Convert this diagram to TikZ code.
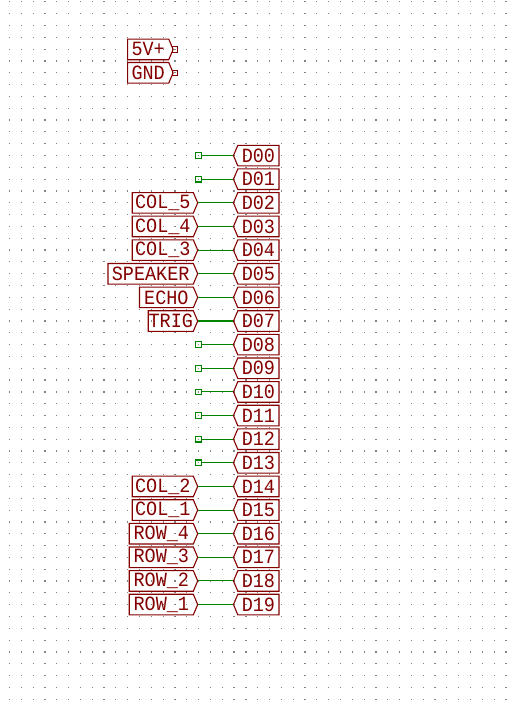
\documentclass[tikz,border=0pt]{standalone}
\usepackage{fontspec}
\setmainfont[FakeStretch=0.915]{Liberation Mono}
\usetikzlibrary{shapes.symbols}
\definecolor{lbl}{HTML}{840000}
\definecolor{wirec}{HTML}{008400}
\definecolor{griddot}{HTML}{848484}
\tikzset{
  x=1pt,y=-1pt,
  lblbase/.style={draw=lbl,line width=1.1pt,text=lbl,inner sep=0pt,font=\fontsize{20.2}{20.2}\selectfont,
    shape=signal,signal pointer angle=134,minimum height=20.6pt,anchor=center},
  hier/.style={lblbase,signal to=east,signal from=nowhere},
  sheet/.style={lblbase,signal to=west,signal from=nowhere},
  wire/.style={draw=wirec,line width=1.1pt},
  ncmark/.style={draw=wirec,line width=1.1pt,fill=none,shape=rectangle,minimum size=5.6pt,inner sep=0pt},
  pinmark/.style={draw=lbl,line width=1.1pt,fill=none,shape=rectangle,minimum size=5.2pt,inner sep=0pt},
}
\newcommand{\rowy}[1]{155.6+23.63*#1}
\begin{document}
\begin{tikzpicture}
\useasboundingbox (0,0) rectangle (512,713);
\fill[white] (0,0) rectangle (512,713);
\foreach \i in {0,...,42}{\foreach \j in {0,...,59}{
  \fill[griddot] ({9.5+11.82*\i-0.6},{1.85+11.82*\j-0.6}) rectangle +(1.2,1.2);
}}
% power labels
\node[hier,minimum width=45.5pt] (p5v) at (148.2,49.4) {5V+};
\node[pinmark] (p5vpin) at (174.9,49.5) {};
\node[hier,minimum width=45.5pt] (gnd) at (148.2,72.8) {GND};
\node[pinmark] (gndpin) at (174.9,72.8) {};
% sheet pins on the right
\foreach \n/\t [count=\k from 0] in {d00/D00,d01/D01,d02/D02,d03/D03,d04/D04,d05/D05,d06/D06,d07/D07,d08/D08,d09/D09,d10/D10,d11/D11,d12/D12,d13/D13,d14/D14,d15/D15,d16/D16,d17/D17,d18/D18,d19/D19}{
  \node[sheet,minimum width=45.5pt] (\n) at (258.4,{\rowy{\k}}) {\t};
}
% unconnected pins
\foreach \n/\k in {d00/0,d01/1,d08/8,d09/9,d10/10,d11/11,d12/12,d13/13}{
  \node[ncmark] (nc\n) at (198.3,{\rowy{\k}}) {};
  \draw[wire] (nc\n.east) -- (\n.west);
}
% labels on the left
\foreach \n/\t/\w/\k in {col5/COL\textunderscore 5/65.4/2,col4/COL\textunderscore 4/65.4/3,col3/COL\textunderscore 3/65.4/4,spk/SPEAKER/89.7/5,echo/ECHO/58.2/6,trig/TRIG/49.4/7,col2/COL\textunderscore 2/65.4/14,col1/COL\textunderscore 1/65.4/15,row4/ROW\textunderscore 4/68.4/16,row3/ROW\textunderscore 3/68.4/17,row2/ROW\textunderscore 2/68.4/18,row1/ROW\textunderscore 1/68.4/19}{
  \node[hier,minimum width=\w pt] (\n) at ({195.5-\w/2},{\rowy{\k}}) {\t};
}
\foreach \a/\b in {col5/d02,col4/d03,col3/d04,spk/d05,echo/d06,trig/d07,col2/d14,col1/d15,row4/d16,row3/d17,row2/d18,row1/d19}{
  \draw[wire] (\a.east) -- (\b.west);
}
\end{tikzpicture}
\end{document}
